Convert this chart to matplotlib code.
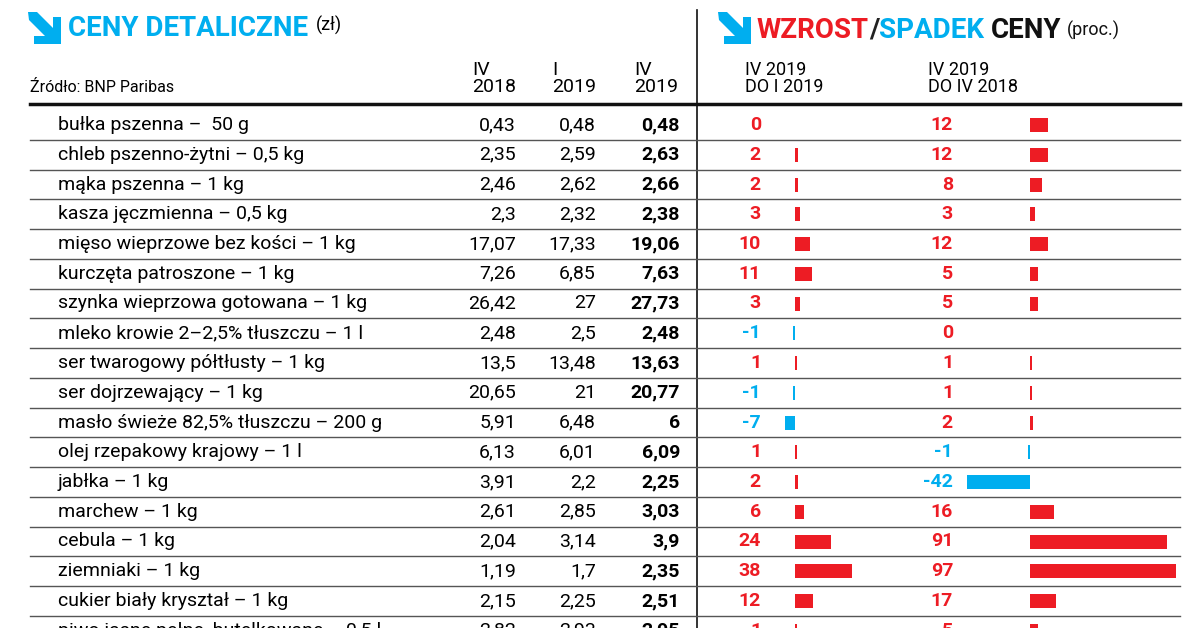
import matplotlib
matplotlib.use("Agg")
import matplotlib.pyplot as plt
from matplotlib.patches import Polygon, Rectangle

products = ["bułka pszenna –  50 g", "chleb pszenno-żytni – 0,5 kg", "mąka pszenna – 1 kg",
            "kasza jęczmienna – 0,5 kg", "mięso wieprzowe bez kości – 1 kg", "kurczęta patroszone – 1 kg",
            "szynka wieprzowa gotowana – 1 kg", "mleko krowie 2–2,5% tłuszczu – 1 l",
            "ser twarogowy półtłusty – 1 kg", "ser dojrzewający – 1 kg", "masło świeże 82,5% tłuszczu – 200 g",
            "olej rzepakowy krajowy – 1 l", "jabłka – 1 kg", "marchew – 1 kg", "cebula – 1 kg",
            "ziemniaki – 1 kg", "cukier biały kryształ – 1 kg", "piwo jasne pełne, butelkowane – 0,5 l"]
p_iv2018 = ["0,43", "2,35", "2,46", "2,3", "17,07", "7,26", "26,42", "2,48", "13,5", "20,65", "5,91",
            "6,13", "3,91", "2,61", "2,04", "1,19", "2,15", "2,82"]
p_i2019 = ["0,48", "2,59", "2,62", "2,32", "17,33", "6,85", "27", "2,5", "13,48", "21", "6,48",
           "6,01", "2,2", "2,85", "3,14", "1,7", "2,25", "2,93"]
p_iv2019 = ["0,48", "2,63", "2,66", "2,38", "19,06", "7,63", "27,73", "2,48", "13,63", "20,77", "6",
            "6,09", "2,25", "3,03", "3,9", "2,35", "2,51", "2,95"]
chg_q = [0, 2, 2, 3, 10, 11, 3, -1, 1, -1, -7, 1, 2, 6, 24, 38, 12, 1]
chg_y = [12, 12, 8, 3, 12, 5, 5, 0, 1, 1, 2, -1, -42, 16, 91, 97, 17, 5]

RED = "#ED1C24"
BLUE = "#00AEEF"
FONT = ["Liberation Sans Narrow", "Roboto", "DejaVu Sans"]
plt.rcParams['font.family'] = FONT

fig = plt.figure(figsize=(12, 6.28), dpi=100)
ax = fig.add_axes([0, 0, 1, 1])
ax.set_xlim(0, 1200)
ax.set_ylim(628, 0)
ax.axis("off")

def arrow(x, y):
    ax.add_patch(Polygon([[x, y], [x + 9, y], [x + 25, y + 16], [x + 25, y + 5], [x + 33, y + 5],
                          [x + 33, y + 32], [x + 6, y + 32], [x + 6, y + 24], [x + 17, y + 24],
                          [x + 1, y + 8]], closed=True, color=BLUE, lw=0))

fig.canvas.draw()
r = fig.canvas.get_renderer()
def after(prev, s, y=30, **kw):
    bb = prev.get_window_extent(r)
    x = ax.transData.inverted().transform((bb.x1, 0))[0]
    return ax.text(x + kw.pop("gap", 0), y, s, va="center", **kw)

arrow(28, 12)
t0 = ax.text(68, 28, "CENY DETALICZNE", color=BLUE, fontsize=20, fontweight="bold", va="center")
after(t0, "(zł)", y=25, fontsize=13, gap=8)
arrow(718, 12)
t = ax.text(757, 30, "WZROST", color=RED, fontsize=20, fontweight="bold", va="center")
s = after(t, "/", color="#222", fontsize=20, fontweight="bold")
s = after(s, "SPADEK", color=BLUE, fontsize=20, fontweight="bold")
s = after(s, "CENY", color="#111", fontsize=20, fontweight="bold", gap=6)
after(s, "(proc.)", color="#111", fontsize=13, gap=6)

ax.text(30, 88, "Źródło: BNP Paribas", fontsize=11.5, va="center")
for x, h in [(472, "IV\n2018"), (552, "I\n2019"), (634, "IV\n2019")]:
    ax.text(x, 96, h, fontsize=14, va="bottom", linespacing=0.95)
ax.text(745, 96, "IV 2019\nDO I 2019", fontsize=13, va="bottom", linespacing=0.95)
ax.text(928, 96, "IV 2019\nDO IV 2018", fontsize=13, va="bottom", linespacing=0.95)

ax.plot([30, 1180], [104, 104], color="#111", lw=2.5)
ax.plot([697, 697], [10, 628], color="#111", lw=1.2)

y0, dy = 125, 29.75
for i, name in enumerate(products):
    y = y0 + i * dy
    if i > 0:
        ax.plot([30, 1180], [y - dy / 2, y - dy / 2], color="#555", lw=1)
    ax.text(58, y, name, fontsize=14, va="center")
    ax.text(516, y, p_iv2018[i], fontsize=14, va="center", ha="right")
    ax.text(596, y, p_i2019[i], fontsize=14, va="center", ha="right")
    ax.text(680, y, p_iv2019[i], fontsize=14, va="center", ha="right", fontweight="bold")
    for v, tx, base in [(chg_q[i], 761, 795), (chg_y[i], 953, 1030)]:
        c = BLUE if v < 0 else RED
        ax.text(tx, y, str(v), fontsize=14, va="center", ha="right", color=c, fontweight="bold")
        if v != 0:
            w = v * 1.5
            if abs(w) < 2:
                w = 2 if v > 0 else -2
            ax.add_patch(Rectangle((base, y - 7), w, 14, color=c, lw=0))

fig.savefig("out.png", dpi=100)
